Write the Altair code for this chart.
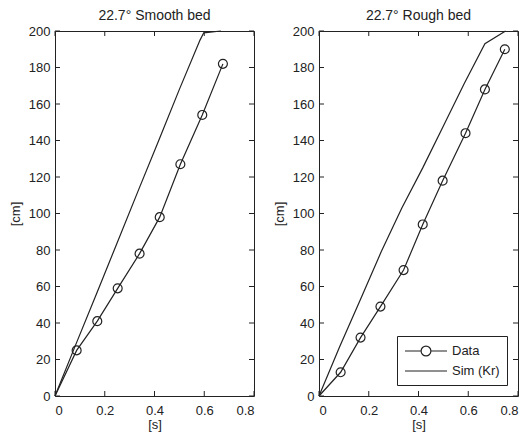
import altair as alt
import pandas as pd

# ---- data ----
smooth_data_t = [0, 0.087, 0.17, 0.252, 0.34, 0.421, 0.504, 0.592, 0.675]
smooth_data_d = [0, 25, 41, 59, 78, 98, 127, 154, 182]
smooth_sim_t = [0, 0.083, 0.167, 0.25, 0.333, 0.417, 0.5, 0.583, 0.598, 0.667]
smooth_sim_d = [0, 28, 56, 84, 112, 140, 168, 195, 199, 200]

rough_data_t = [0, 0.087, 0.167, 0.247, 0.34, 0.417, 0.497, 0.589, 0.667, 0.747]
rough_data_d = [0, 13, 32, 49, 69, 94, 118, 144, 168, 190]
rough_sim_t = [0, 0.083, 0.167, 0.25, 0.333, 0.417, 0.5, 0.583, 0.667, 0.75]
rough_sim_d = [0, 27, 53, 79, 103, 125, 148, 171, 193, 200]

x_ticks = [0, 0.2, 0.4, 0.6, 0.8]
y_ticks = [0, 20, 40, 60, 80, 100, 120, 140, 160, 180, 200]
series_names = ["Data", "Sim (Kr)"]
titles = ["22.7° Smooth bed", "22.7° Rough bed"]

FONT = "Liberation Sans"
INK = "#222222"
W, H = 199, 365
TK = 5  # inward tick length

sym_data = "M-1,0 H1.3 M2.7,0 H5 M2.7,0 A0.7,0.7 0 1,1 1.3,0 A0.7,0.7 0 1,1 2.7,0 Z"
sym_sim = "M-1,0 H5"


def xenc():
    return alt.X("t:Q", scale=alt.Scale(domain=[0, 0.8], nice=False, zero=False),
                 axis=alt.Axis(values=x_ticks, format="~g", title="[s]"))


def yenc():
    return alt.Y("d:Q", scale=alt.Scale(domain=[0, 200], nice=False, zero=False),
                 axis=alt.Axis(values=y_ticks, title="[cm]"))


def panel(data_t, data_d, sim_t, sim_d, title, with_legend):
    dfd = pd.DataFrame({"t": data_t, "d": data_d})
    dfs = pd.DataFrame({"t": sim_t, "d": sim_d})
    dfx = pd.DataFrame({"t": x_ticks})
    dfy = pd.DataFrame({"d": y_ticks})

    layers = []
    layers.append(alt.Chart(dfx).mark_rule(color=INK, strokeWidth=1).encode(
        x=xenc(), y=alt.value(H - TK), y2=alt.value(H)))
    layers.append(alt.Chart(dfx).mark_rule(color=INK, strokeWidth=1).encode(
        x=xenc(), y=alt.value(0), y2=alt.value(TK)))
    layers.append(alt.Chart(dfy).mark_rule(color=INK, strokeWidth=1).encode(
        y=yenc(), x=alt.value(0), x2=alt.value(TK)))
    layers.append(alt.Chart(dfy).mark_rule(color=INK, strokeWidth=1).encode(
        y=yenc(), x=alt.value(W - TK), x2=alt.value(W)))
    layers.append(alt.Chart(dfs).mark_line(color=INK, strokeWidth=1.2).encode(
        x=xenc(), y=yenc()))
    layers.append(alt.Chart(dfd).mark_line(color=INK, strokeWidth=1.2).encode(
        x=xenc(), y=yenc()))
    layers.append(alt.Chart(dfd[dfd["t"] > 0]).mark_point(
        shape="circle", filled=False, color=INK, size=80, strokeWidth=1.2, opacity=1).encode(
        x=xenc(), y=yenc()))
    if with_legend:
        dfl = pd.DataFrame({"series": series_names, "t": [0.1, 0.1], "d": [10, 10]})
        layers.append(alt.Chart(dfl).mark_point(
            filled=False, color=INK, size=196, strokeWidth=1.2, opacity=1).encode(
            x=xenc(), y=yenc(),
            shape=alt.Shape("series:N",
                            scale=alt.Scale(domain=series_names, range=[sym_data, sym_sim]),
                            legend=alt.Legend(
                                title=None, orient="bottom-right", offset=11, padding=7,
                                strokeColor=INK, fillColor="white",
                                labelFont=FONT, labelFontSize=13, labelColor=INK,
                                labelOffset=32, rowPadding=4,
                                symbolSize=196, symbolStrokeColor=INK,
                                symbolStrokeWidth=1.2, symbolFillColor="transparent",
                                symbolOpacity=1)),
        ).transform_filter("false"))
    return alt.layer(*layers).properties(
        width=W, height=H,
        title=alt.TitleParams(title, font=FONT, fontSize=14, fontWeight="normal",
                              color=INK, offset=2, anchor="middle", frame="group"))


left = panel(smooth_data_t, smooth_data_d, smooth_sim_t, smooth_sim_d, titles[0], False)
right = panel(rough_data_t, rough_data_d, rough_sim_t, rough_sim_d, titles[1], True)

chart = alt.hconcat(left, right, spacing=17).resolve_scale(
    shape="independent"
).resolve_legend(
    shape="independent"
).properties(
    padding={"left": 0, "top": 0, "right": 0, "bottom": 0}
).configure_view(
    stroke=INK, strokeWidth=1
).configure_axis(
    domain=False, ticks=False, grid=False, labelPadding=5,
    labelFont=FONT, labelFontSize=13, labelColor=INK,
    titleFont=FONT, titleFontSize=13, titleFontWeight="normal", titleColor=INK,
).configure_axisY(titlePadding=6).configure_axisX(labelPadding=8, titlePadding=1)

chart.save("out.html", embed_options={"renderer": "svg", "actions": False})
